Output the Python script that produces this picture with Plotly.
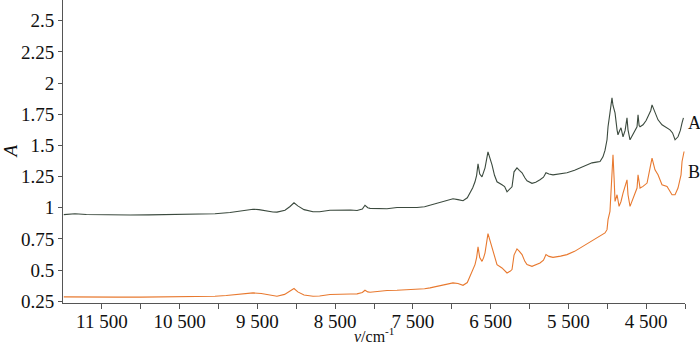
import plotly.graph_objects as go

# Spectrum A (wavenumber cm-1, absorbance)
wn_a = [11990, 11900, 11846, 11700, 11524, 11300, 11138, 10900, 10752, 10500, 10367, 10200, 10045,
        9852, 9723, 9600, 9556, 9480, 9402, 9300, 9248, 9145, 9080, 9029, 8980, 8900, 8784, 8700,
        8566, 8399, 8300, 8218, 8150, 8116, 8080, 8051, 7950, 7833, 7704, 7600, 7447, 7350, 7280,
        7151, 7050, 6984, 6920, 6855, 6800, 6765, 6730, 6701, 6680, 6662, 6640, 6611, 6590, 6572,
        6534, 6510, 6482, 6450, 6418, 6354, 6320, 6289, 6250, 6225, 6199, 6161, 6130, 6096, 6060,
        6032, 5968, 5920, 5865, 5820, 5788, 5750, 5698, 5600, 5518, 5420, 5312, 5250, 5196, 5140,
        5093, 5055, 5029, 5003, 4990, 4965, 4939, 4926, 4900, 4874, 4862, 4840, 4823, 4797, 4770,
        4746, 4733, 4707, 4668, 4640, 4617, 4604, 4590, 4578, 4540, 4500, 4476, 4440, 4424, 4400,
        4386, 4347, 4296, 4257, 4193, 4160, 4128, 4090, 4060, 4038, 4020]
abs_a = [0.945, 0.948, 0.952, 0.946, 0.944, 0.943, 0.942, 0.943, 0.944, 0.944, 0.945, 0.948, 0.952,
         0.962, 0.972, 0.984, 0.988, 0.985, 0.975, 0.966, 0.965, 0.980, 1.010, 1.040, 1.015, 0.985,
         0.968, 0.968, 0.980, 0.985, 0.982, 0.978, 0.990, 1.020, 1.000, 0.995, 0.993, 0.992, 1.002,
         1.000, 1.002, 1.008, 1.020, 1.038, 1.055, 1.072, 1.065, 1.056, 1.080, 1.120, 1.160, 1.208,
         1.260, 1.352, 1.270, 1.248, 1.290, 1.320, 1.448, 1.400, 1.344, 1.260, 1.208, 1.184, 1.170,
         1.128, 1.150, 1.168, 1.288, 1.320, 1.300, 1.280, 1.240, 1.216, 1.196, 1.205, 1.224, 1.245,
         1.280, 1.270, 1.264, 1.275, 1.280, 1.300, 1.328, 1.345, 1.360, 1.366, 1.371, 1.408, 1.460,
         1.545, 1.650, 1.761, 1.881, 1.820, 1.761, 1.625, 1.585, 1.620, 1.641, 1.569, 1.620, 1.721,
         1.625, 1.545, 1.585, 1.620, 1.649, 1.745, 1.660, 1.649, 1.665, 1.700, 1.729, 1.780, 1.825,
         1.790, 1.769, 1.705, 1.665, 1.649, 1.625, 1.600, 1.545, 1.569, 1.620, 1.681, 1.720]

# Spectrum B
wn_b = [11990, 11800, 11524, 11300, 11000, 10700, 10400, 10200, 10045, 9900, 9723, 9556, 9450,
        9350, 9248, 9150, 9080, 9029, 8980, 8900, 8784, 8700, 8566, 8450, 8399, 8300, 8218, 8150,
        8116, 8080, 8051, 7950, 7833, 7704, 7600, 7447, 7350, 7280, 7151, 7050, 6984, 6920, 6855,
        6800, 6765, 6730, 6701, 6680, 6662, 6640, 6611, 6590, 6572, 6534, 6510, 6482, 6450, 6418,
        6354, 6320, 6289, 6250, 6225, 6199, 6161, 6130, 6096, 6060, 6032, 5968, 5920, 5865, 5820,
        5788, 5750, 5698, 5600, 5518, 5420, 5312, 5250, 5196, 5093, 5029, 5003, 4990, 4965, 4950,
        4939, 4926, 4912, 4900, 4874, 4848, 4823, 4797, 4746, 4733, 4707, 4668, 4617, 4604, 4578,
        4540, 4488, 4450, 4424, 4386, 4347, 4296, 4231, 4167, 4128, 4090, 4051, 4038, 4012]
abs_b = [0.285, 0.283, 0.282, 0.283, 0.283, 0.284, 0.285, 0.287, 0.290, 0.296, 0.308, 0.317, 0.312,
         0.300, 0.290, 0.305, 0.330, 0.352, 0.325, 0.300, 0.290, 0.292, 0.304, 0.308, 0.309, 0.308,
         0.309, 0.320, 0.338, 0.325, 0.322, 0.330, 0.336, 0.338, 0.340, 0.344, 0.350, 0.357, 0.376,
         0.390, 0.397, 0.392, 0.378, 0.400, 0.450, 0.500, 0.544, 0.600, 0.686, 0.600, 0.570, 0.600,
         0.638, 0.792, 0.740, 0.690, 0.600, 0.544, 0.517, 0.500, 0.477, 0.490, 0.504, 0.620, 0.670,
         0.650, 0.624, 0.570, 0.544, 0.530, 0.540, 0.557, 0.580, 0.624, 0.610, 0.602, 0.612, 0.624,
         0.650, 0.690, 0.710, 0.735, 0.770, 0.798, 0.824, 0.904, 0.971, 1.144, 1.238, 1.425, 1.238,
         1.051, 1.104, 1.011, 1.050, 1.118, 1.224, 1.104, 1.011, 1.078, 1.158, 1.264, 1.158, 1.171,
         1.198, 1.318, 1.398, 1.304, 1.264, 1.184, 1.171, 1.104, 1.104, 1.158, 1.264, 1.371, 1.451]

x_tickvals = [11500, 10500, 9500, 8500, 7500, 6500, 5500, 4500]
x_ticktext = ["11 500", "10 500", "9 500", "8 500", "7 500", "6 500", "5 500", "4 500"]
x_minorvals = [11000, 10000, 9000, 8000, 7000, 6000, 5000, 4000]
y_tickvals = [0.25, 0.5, 0.75, 1, 1.25, 1.5, 1.75, 2, 2.25, 2.5]
y_ticktext = ["0.25", "0.5", "0.75", "1", "1.25", "1.5", "1.75", "2", "2.25", "2.5"]

FONT = "Liberation Serif"
AXC = "#555555"

fig = go.Figure()
fig.add_trace(go.Scatter(x=wn_a, y=abs_a, mode="lines", line=dict(color="#3b4a3e", width=1.1),
                         showlegend=False, hoverinfo="skip"))
fig.add_trace(go.Scatter(x=wn_b, y=abs_b, mode="lines", line=dict(color="#e8792f", width=1.1),
                         showlegend=False, hoverinfo="skip"))

fig.update_layout(
    width=700, height=346,
    margin=dict(l=63, r=15, t=0, b=43, autoexpand=False),
    paper_bgcolor="white", plot_bgcolor="white",
    font=dict(family=FONT, size=19, color="#111111"),
    xaxis=dict(range=[12000, 4000], tickvals=x_tickvals, ticktext=x_ticktext, automargin=False,
               showgrid=False, zeroline=False, showline=True, linecolor=AXC, linewidth=1,
               ticks="outside", ticklen=5, tickcolor=AXC, tickfont=dict(size=19, family=FONT),
               ticklabelstandoff=-4,
               minor=dict(tickvals=x_minorvals, ticks="outside", ticklen=5, tickcolor=AXC, showgrid=False)),
    yaxis=dict(range=[0.236, 2.666], tickvals=y_tickvals, ticktext=y_ticktext, automargin=False,
               showgrid=False, zeroline=False, showline=True, linecolor=AXC, linewidth=1,
               ticks="outside", ticklen=4, tickcolor=AXC, tickfont=dict(size=19, family=FONT)),
    annotations=[
        dict(text="A", x=1.0, xref="paper", xanchor="left", xshift=1, y=1.68, yref="y",
             showarrow=False, font=dict(size=18, family=FONT)),
        dict(text="B", x=1.0, xref="paper", xanchor="left", xshift=1, y=1.29, yref="y",
             showarrow=False, font=dict(size=18, family=FONT)),
        dict(text="<i>ν</i>/cm<sup>-1</sup>", x=0.5, xref="paper", y=0.0, yref="paper",
             yanchor="top", yshift=-20, showarrow=False, font=dict(size=16, family=FONT)),
        dict(text="<i>A</i>", x=0, xref="paper", xanchor="center", xshift=-53, y=0.5, yref="paper",
             textangle=-90, showarrow=False, font=dict(size=19, family=FONT)),
    ],
)

fig.write_html("out.html", config={"displayModeBar": False},
               post_script="document.body.style.margin='0';document.body.style.overflow='hidden';")
